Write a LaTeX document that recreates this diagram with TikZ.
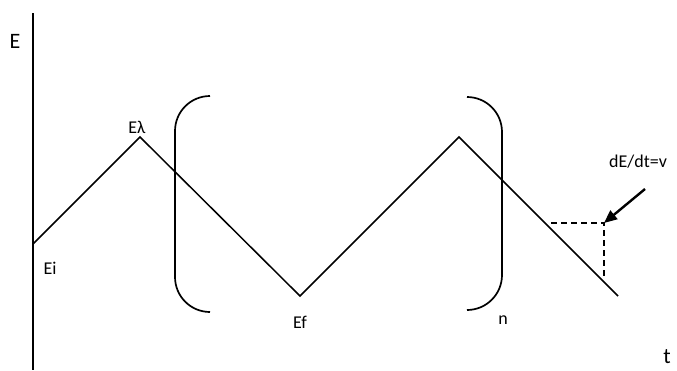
\documentclass[tikz,border=0pt]{standalone}
\usepackage{fontspec}
\setmainfont{Carlito}
\usetikzlibrary{arrows.meta}
\begin{document}
\begin{tikzpicture}[x=1pt,y=-1pt,
  lbl/.style={font=\fontsize{18}{20}\selectfont, inner sep=0pt},
  biglbl/.style={font=\fontsize{22}{24}\selectfont, inner sep=0pt},
  wave/.style={line width=1.5pt},
  brk/.style={line width=1.7pt},
  axisline/.style={line width=2.6pt},
  dashline/.style={line width=1.5pt, dash pattern=on 6pt off 4pt},
  ptr/.style={line width=2.4pt, -{Triangle[length=13pt,width=11pt]}}]
\useasboundingbox (0,0) rectangle (677,370);
% axis
\coordinate (atop) at (33,13);
\coordinate (abot) at (33,370);
\draw[axisline] (atop) -- (abot);
\node[biglbl] (E) at (15,41) {E};
\node[biglbl] (t) at (667,357) {t};
% zigzag
\coordinate (Ei) at (33,244);
\coordinate (El) at (140,137);
\coordinate (Ef) at (300,296);
\coordinate (P2) at (459,137);
\coordinate (End) at (618,296);
\draw[wave] (Ei) -- (El) -- (Ef) -- (P2) -- (End);
\node[lbl] (tEi) at (50,268) {Ei};
\node[lbl] (tEl) at (137,127) {Eλ};
\node[lbl] (tEf) at (300,322) {Ef};
\node[lbl] (tn) at (503,320) {n};
% brackets
\draw[brk] (210,96) arc[start angle=-90,end angle=-180,radius=35] -- (175,277) arc[start angle=180,end angle=90,radius=35];
\draw[brk] (467,97) arc[start angle=-90,end angle=0,radius=35] -- (502,275) arc[start angle=0,end angle=90,radius=35];
% slope triangle
\coordinate (d1) at (551,223);
\coordinate (corner) at (604,223);
\coordinate (d2) at (604,276);
\draw[dashline] (d1) -- (corner) -- (d2);
\coordinate (astart) at (645,189);
\draw[ptr] (astart) -- (corner);
\node[lbl, anchor=west] (slope) at (609,162) {dE/dt=v};
\end{tikzpicture}
\end{document}
